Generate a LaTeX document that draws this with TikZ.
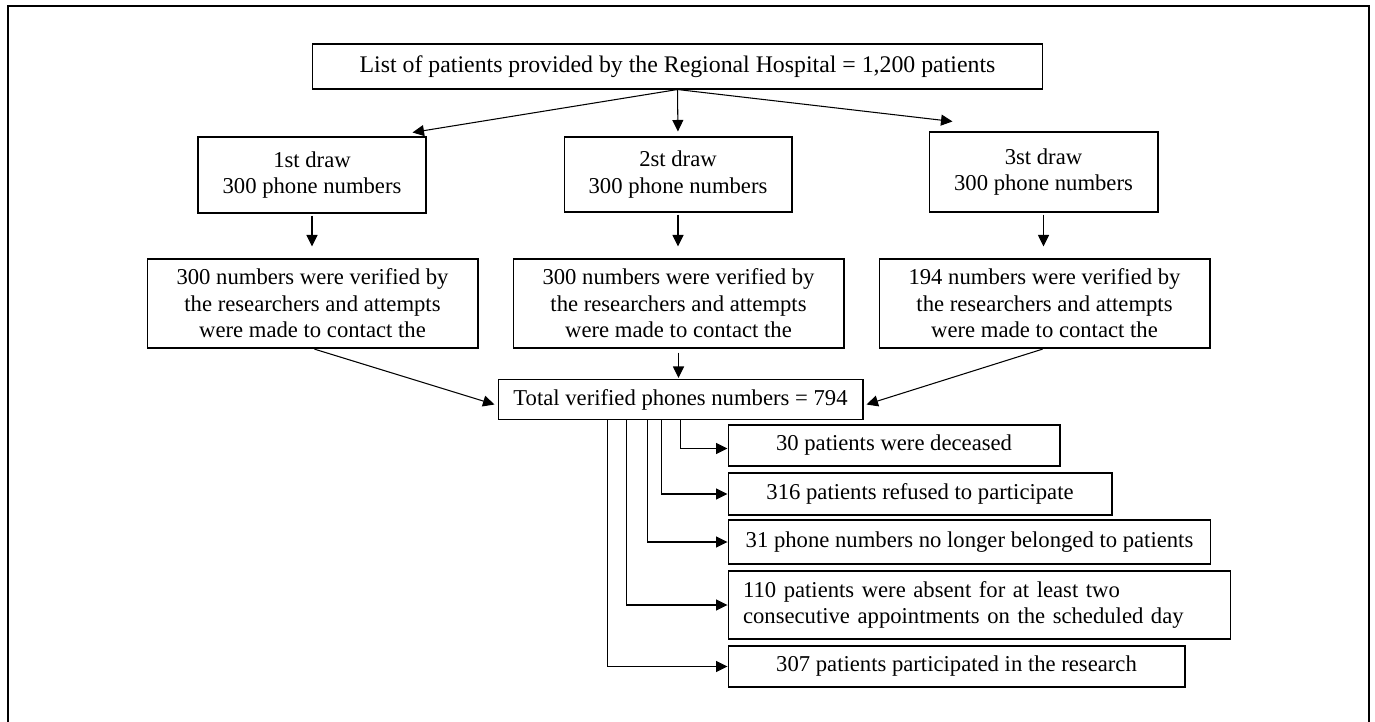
\documentclass[tikz,border=0pt]{standalone}
\usepackage{fontspec}
\setmainfont{Liberation Serif}
\usetikzlibrary{arrows.meta,calc}

\begin{document}
\begin{tikzpicture}[x=0.02cm,y=-0.02cm,
		box/.style={draw,line width=0.6pt,inner sep=0pt,align=center,font=\fontsize{12.9}{15.1}\selectfont},
		arr/.style={line width=0.6pt,-{Triangle[length=0.23cm,width=0.22cm]}},
		gap/.style={shorten <=0.04cm,shorten >=0.24cm}]
		\useasboundingbox (0,0) rectangle (1375,722);
		\draw[line width=0.8pt] (8,722) -- (8,6) -- (1369,6) -- (1369,722);

		\node[box,minimum width=14.62cm,minimum height=0.9cm,font=\fontsize{13.55}{15.8}\selectfont] (list) at (677.5,66.5) {List of patients provided by the Regional Hospital = 1,200 patients};

		\node[box,minimum width=4.56cm,minimum height=1.52cm] (draw1) at (312,175) {1st draw\\300 phone numbers};
		\node[box,minimum width=4.56cm,minimum height=1.5cm] (draw2) at (678,174.5) {2st draw\\300 phone numbers};
		\node[box,minimum width=4.58cm,minimum height=1.6cm] (draw3) at (1043.5,172) {3st draw\\300 phone numbers};

		\node[box,minimum width=6.62cm,minimum height=1.78cm] (ver1) at (312.5,303.5) {300 numbers were verified by\\the researchers and attempts\\were made to contact the};
		\node[box,minimum width=6.62cm,minimum height=1.78cm] (ver2) at (678.5,303.5) {300 numbers were verified by\\the researchers and attempts\\were made to contact the};
		\node[box,minimum width=6.62cm,minimum height=1.78cm] (ver3) at (1044.5,303.5) {194 numbers were verified by\\the researchers and attempts\\were made to contact the};

		\node[box,minimum width=7.3cm,minimum height=0.8cm] (total) at (680.5,399.5) {Total verified phones numbers = 794};

		\node[box,minimum width=6.64cm,minimum height=0.82cm] (dead) at (894,445.5) {30 patients were deceased};
		\node[box,minimum width=7.68cm,minimum height=0.84cm] (refused) at (920,494) {316 patients refused to participate};
		\node[box,minimum width=9.66cm,minimum height=0.88cm] (lost) at (969.5,542) {31 phone numbers no longer belonged to patients};
		\node[box,text width=9.46cm,inner xsep=0.3cm,align=left,minimum height=1.36cm] (absent) at (979.5,605) {110 patients were absent for at least two\\consecutive appointments on the scheduled day};
		\node[box,minimum width=9.14cm,minimum height=0.82cm] (joined) at (956.5,666.5) {307 patients participated in the research};

		\draw[arr] (list.south) -- ($(draw1.north east)+(-14,-4)$);
		\draw[arr,shorten >=0.1cm] (list.south) -- (draw2.north);
		\draw[arr] (list.south) -- ($(draw3.north west)+(24,-10)$);

		\draw[arr,gap] (draw1.south) -- (draw1.south |- ver1.north);
		\draw[arr,gap] (draw2.south) -- (draw2.south |- ver2.north);
		\draw[arr,gap] (draw3.south) -- (draw3.south |- ver3.north);

		\draw[arr,shorten <=0.04cm] (ver1.south) -- ($(total.west)+(-3,5)$);
		\draw[arr,shorten <=0.08cm,shorten >=0.02cm] (ver2.south) -- (ver2.south |- total.north);
		\draw[arr,shorten <=0.04cm] (ver3.south) -- ($(total.east)+(3,5)$);

		\draw[arr] ($(total.south west)+(183,0)$) |- ($(dead.west)+(0,3)$);
		\draw[arr] ($(total.south west)+(164,0)$) |- (refused.west);
		\draw[arr] ($(total.south west)+(150,0)$) |- (lost.west);
		\draw[arr] ($(total.south west)+(129,0)$) |- (absent.west);
		\draw[arr] ($(total.south west)+(110,0)$) |- (joined.west);
	\end{tikzpicture}
\end{document}
